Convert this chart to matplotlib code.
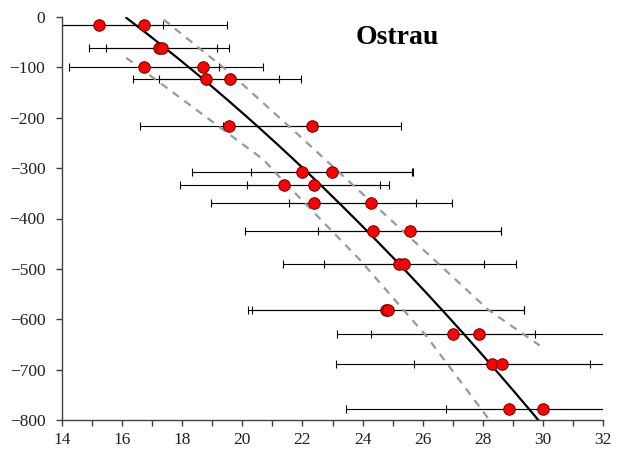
import matplotlib
matplotlib.use("Agg")
import matplotlib.pyplot as plt
import numpy as np
from matplotlib.ticker import MultipleLocator

# ---- data ----
depth = [-15, -62, -99, -124, -216, -308, -334, -369, -425, -490, -581, -630, -688, -779]
temp_a = [15.24, 17.24, 16.74, 18.79, 19.55, 21.98, 21.40, 22.37, 24.34, 25.22, 24.78, 27.01, 28.32, 28.87]
err_a = [2.13, 2.33, 2.50, 2.43, 2.95, 3.66, 3.48, 3.41, 4.25, 3.88, 4.58, 2.72, 5.20, 5.42]
temp_b = [16.74, 17.32, 18.69, 19.59, 22.32, 22.99, 22.37, 24.27, 25.57, 25.39, 24.85, 27.87, 28.64, 30.00]
err_b = [2.76, 1.85, 2.00, 2.35, 2.95, 2.70, 2.22, 2.71, 3.04, 2.66, 4.52, 4.71, 2.93, 3.21]

# trend curve and band
fit_temp = [16.14, 19.04, 21.92, 24.25, 26.57, 28.90, 29.89]
fit_depth = [0, -144, -296, -425, -577, -740, -799]
upper_temp = [17.38, 19.59, 21.92, 26.02, 28.18, 29.89]
upper_depth = [-5, -111, -237, -462, -581, -652]
lower_temp = [16.14, 20.70, 21.26, 23.91, 26.13, 28.21]
lower_depth = [-81, -283, -319, -482, -634, -799]

title = "Ostrau"

fig = plt.figure(figsize=(6.22, 4.59), dpi=100)
ax = fig.add_axes([62 / 622, 39 / 459, 541 / 622, 403 / 459])

for t, e in ((temp_a, err_a), (temp_b, err_b)):
    ax.errorbar(t, depth, xerr=e, fmt="none", ecolor="black", elinewidth=0.8,
                capsize=3.0, capthick=0.8, zorder=2)

# polynomial trendline (as in a spreadsheet) through the read curve
coef = np.polyfit(fit_temp, fit_depth, 2)
tt = np.linspace(min(fit_temp), max(fit_temp), 200)
ax.plot(tt, np.polyval(coef, tt), color="black", lw=1.6, zorder=3)

ax.plot(upper_temp, upper_depth, color="#999999", lw=1.6, ls=(0, (3.5, 3)), zorder=3)
ax.plot(lower_temp, lower_depth, color="#999999", lw=1.6, ls=(0, (3.5, 3)), zorder=3)

for t in (temp_a, temp_b):
    ax.plot(t, depth, ls="none", marker="o", ms=8.3, mfc="#ff0000",
            mec="#6b0000", mew=0.7, zorder=4)

ax.set_xlim(14, 32)
ax.set_ylim(-800, 0)
ax.xaxis.set_major_locator(MultipleLocator(2))
ax.xaxis.set_minor_locator(MultipleLocator(1))
ax.yaxis.set_major_locator(MultipleLocator(100))

for s in ("top", "right"):
    ax.spines[s].set_visible(False)
for s in ("left", "bottom"):
    ax.spines[s].set_color("#404040")
    ax.spines[s].set_linewidth(1.0)

ax.tick_params(axis="both", which="both", direction="out", length=4, width=1,
               color="#404040", labelcolor="#222222", labelsize=12.5)
ax.tick_params(axis="y", pad=8)
ax.tick_params(axis="x", pad=5)
for lab in ax.get_xticklabels() + ax.get_yticklabels():
    lab.set_family("Liberation Serif")

ax.text(0.619, 0.948, title, transform=ax.transAxes, ha="center", va="center",
        fontsize=20, fontweight="bold", family="Liberation Serif")

fig.savefig("out.png", dpi=100)
